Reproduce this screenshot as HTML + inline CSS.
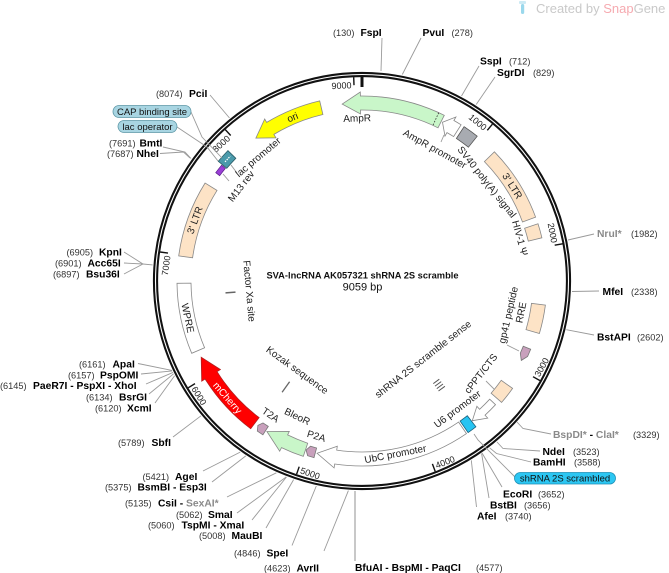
<!DOCTYPE html>
<html><head><meta charset="utf-8"><style>
html,body{margin:0;padding:0;background:#fff;}
svg{display:block;}
.n{font-weight:bold;font-size:10.3px;fill:#000;}
.g{font-weight:bold;font-size:10.3px;fill:#8a8a8a;}
.p{font-size:9.2px;fill:#333;}
.f{font-size:10px;fill:#222;}
.t{font-size:9px;fill:#222;}
.ln{stroke:#9a9a9a;stroke-width:0.9;fill:none;}
.ft{stroke:#888;stroke-width:0.8;}
</style></head><body>
<svg xmlns="http://www.w3.org/2000/svg" width="669" height="573" viewBox="0 0 669 573" font-family="'Liberation Sans', Arial, sans-serif">
<rect width="669" height="573" fill="#fff"/>

<!-- watermark -->
<rect x="519" y="1" width="7" height="3" rx="1" fill="#cdeaf4"/>
<rect x="521" y="4" width="3.2" height="10" rx="1.6" fill="#9ad8ec"/>
<text x="536" y="13" font-size="13" fill="#c9c9c9">Created by <tspan fill="#f6aab0">Snap</tspan>Gene</text>

<!-- backbone ring -->
<circle cx="362" cy="281" r="206.5" fill="none" stroke="#111" stroke-width="5.2"/>
<circle cx="362" cy="281" r="206.5" fill="none" stroke="#fff" stroke-width="1.1"/>

<!-- ticks -->
<g stroke="#111" stroke-width="1.4">
<line x1="492.4" y1="124.2" x2="487.3" y2="130.3"/>
<line x1="562.6" y1="243.8" x2="554.7" y2="245.2"/>
<line x1="540.0" y1="380.6" x2="533.0" y2="376.7"/>
<line x1="435.2" y1="471.4" x2="432.4" y2="463.9"/>
<line x1="296.6" y1="474.2" x2="299.2" y2="466.7"/>
<line x1="188.2" y1="387.8" x2="195.0" y2="383.6"/>
<line x1="160.1" y1="252.0" x2="168.0" y2="253.1"/>
<line x1="225.3" y1="129.6" x2="230.7" y2="135.5"/>
<line x1="353.7" y1="77.2" x2="354.0" y2="85.2"/>
</g>
<line x1="362" y1="77" x2="362" y2="87" stroke="#111" stroke-width="3"/>

<!-- tick labels -->
<g class="t">
<text class="t" x="359.5" y="88" text-anchor="end" transform="rotate(39.74 362 281)">1000</text>
<text class="t" x="359.5" y="88" text-anchor="end" transform="rotate(79.48 362 281)">2000</text>
<text class="t" x="364.5" y="483" text-anchor="start" transform="rotate(-60.78 362 281)">3000</text>
<text class="t" x="364.5" y="483" text-anchor="start" transform="rotate(-21.04 362 281)">4000</text>
<text class="t" x="364.5" y="483" text-anchor="start" transform="rotate(18.70 362 281)">5000</text>
<text class="t" x="364.5" y="483" text-anchor="start" transform="rotate(58.44 362 281)">6000</text>
<text class="t" x="359.5" y="88" text-anchor="end" transform="rotate(-81.82 362 281)">7000</text>
<text class="t" x="359.5" y="88" text-anchor="end" transform="rotate(-42.08 362 281)">8000</text>
<text class="t" x="359.5" y="88" text-anchor="end" transform="rotate(-2.34 362 281)">9000</text>
</g>

<!-- features -->
<path class="ft" d="M255.9,138.1 L264.7,119.0 L266.7,122.4 A185,185 0 0 1 319.7,100.9 L322.9,114.5 A171,171 0 0 0 273.9,134.4 L276.0,137.8 Z" fill="#ffff00" stroke="#8a8a60"/>
<path class="ft" d="M342.2,104.1 L360.3,92.0 L360.4,96.0 A185,185 0 0 1 444.3,115.3 L438.0,127.8 A171,171 0 0 0 360.5,110.0 L360.5,114.0 Z" fill="#c9f6c9"/>
<line x1="438.7" y1="112.7" x2="432.9" y2="125.4" stroke="#333" stroke-width="0.8" stroke-dasharray="1.6,1.4"/>
<path class="ft" d="M442.5,122.3 L455.9,117.0 L453.9,120.5 A185,185 0 0 1 461.1,124.8 L453.6,136.6 A171,171 0 0 0 447.0,132.6 L445.0,136.1 Z" fill="#fff"/>
<line class="ln" x1="444" y1="135" x2="441" y2="142"/>
<path d="M464.1,126.7 A185,185 0 0 1 477.2,136.2 L468.4,147.2 A171,171 0 0 0 456.4,138.4 Z" fill="#a8abb1" stroke="#555" stroke-width="0.8"/>
<path class="ft" d="M494.4,151.8 A185,185 0 0 1 535.6,217.1 L522.5,222.0 A171,171 0 0 0 484.4,161.6 Z" fill="#fde3c6"/>
<path class="ft" d="M538.0,223.8 A185,185 0 0 1 541.9,237.8 L528.3,241.1 A171,171 0 0 0 524.6,228.2 Z" fill="#fde3c6"/>
<path class="ft" d="M545.4,305.1 A185,185 0 0 1 539.4,333.5 L526.0,329.6 A171,171 0 0 0 531.5,303.3 Z" fill="#fde3c6"/>
<polygon points="523.3,346.2 530.7,349.2 527.6,356.5 521.3,360.4 520.3,353.2" fill="#c8a0bc" stroke="#777" stroke-width="0.8"/>
<line class="ln" x1="507" y1="345" x2="519" y2="351"/>
<path class="ft" d="M512.6,388.4 A185,185 0 0 1 501.6,402.4 L491.1,393.2 A171,171 0 0 0 501.2,380.3 Z" fill="#fde3c6"/>
<line class="ln" x1="486" y1="381" x2="494" y2="389"/>
<path class="ft" d="M489.7,399.2 L495.5,404.7 A182,182 0 0 1 485.0,415.2 L487.7,418.1 L472.3,420.7 L476.9,406.3 L479.6,409.3 A174,174 0 0 0 489.7,399.2 Z" fill="#fff"/>
<path class="ft" d="M466.5,433.6 A185,185 0 0 1 334.7,464.0 L334.1,467.9 L317.1,453.3 L337.3,446.2 L336.7,450.1 A171,171 0 0 0 458.6,422.1 Z" fill="#fff"/>
<path d="M475.9,426.8 A185,185 0 0 1 468.1,432.6 L460.1,421.1 A171,171 0 0 0 467.3,415.7 Z" fill="#27c4f2" stroke="#1a5f7a" stroke-width="0.8"/>
<polygon points="316.6,448.0 314.0,457.6 307.6,455.7 306.1,450.0 310.5,446.2" fill="#c8a0bc" stroke="#777" stroke-width="0.8"/>
<path class="ft" d="M303.3,456.4 A185,185 0 0 1 281.5,447.6 L279.7,451.2 L266.9,431.5 L289.3,431.4 L287.6,434.9 A171,171 0 0 0 307.7,443.2 Z" fill="#c9f6c9"/>
<polygon points="268.3,426.4 262.9,434.8 257.3,431.1 257.9,425.4 263.0,422.9" fill="#c8a0bc" stroke="#777" stroke-width="0.8"/>
<path d="M250.7,428.7 A185,185 0 0 1 205.1,379.0 L201.7,381.2 L201.2,357.3 L220.4,369.5 L217.0,371.6 A171,171 0 0 0 259.1,417.6 Z" fill="#ff0000" stroke="#b02020" stroke-width="0.8"/>
<path class="ft" d="M191.7,353.3 A185,185 0 0 1 177.0,283.3 L191.0,283.1 A171,171 0 0 0 204.6,347.8 Z" fill="#fff"/>
<path class="ft" d="M178.7,255.9 A185,185 0 0 1 205.1,183.0 L217.0,190.4 A171,171 0 0 0 192.6,257.8 Z" fill="#fde3c6"/>
<path d="M218.3,161.3 A187,187 0 0 1 227.9,150.6 L235.8,158.3 A176,176 0 0 0 226.8,168.3 Z" fill="#4a9aab" stroke="#2b5d68" stroke-width="0.8"/>
<line x1="225.0" y1="161.9" x2="230.3" y2="156.1" stroke="#fff" stroke-width="1.2" stroke-dasharray="1.5,1"/>
<path d="M215.7,172.7 A182,182 0 0 1 221.6,165.2 L225.4,168.4 A177,177 0 0 0 219.7,175.7 Z" fill="#9a3fd6" stroke="#5a1f8a" stroke-width="0.7"/>
<line class="ln" x1="231" y1="165" x2="237" y2="173"/>
<line class="ln" x1="223" y1="174" x2="229" y2="181"/>

<!-- small inner features -->
<line x1="235.5" y1="292.1" x2="225.5" y2="292.9" stroke="#666" stroke-width="1.5"/>
<line x1="289.6" y1="381.7" x2="282.1" y2="392.3" stroke="#666" stroke-width="1.3"/>
<g stroke="#555" stroke-width="1">
<line x1="439.3" y1="379.2" x2="433.3" y2="383.6"/>
<line x1="441.2" y1="381.6" x2="435.0" y2="386.1"/>
<line x1="443.0" y1="384.0" x2="436.8" y2="388.6"/>
<line x1="444.9" y1="386.3" x2="438.5" y2="391.0"/>
</g>

<!-- feature labels -->
<text class="f" x="362" y="121.5" text-anchor="middle" transform="rotate(-1.7 362 281)">AmpR</text>
<text class="f" x="362" y="133.5" text-anchor="middle" transform="rotate(28.9 362 281)">AmpR promoter</text>
<text class="f" x="362" y="125" text-anchor="middle" transform="rotate(51.6 362 281)">SV40 poly(A) signal</text>
<text class="f" x="362" y="106.5" text-anchor="middle" transform="rotate(57.7 362 281)">3' LTR</text>
<text class="f" x="362" y="120.7" text-anchor="middle" transform="rotate(74.8 362 281)">HIV-1 Ψ</text>
<text class="f" x="362" y="446.5" text-anchor="middle" transform="rotate(-78.8 362 281)">RRE</text>
<text class="f" x="362" y="434.5" text-anchor="middle" transform="rotate(-76.9 362 281)">gp41 peptide</text>
<text class="f" x="362" y="435" text-anchor="middle" transform="rotate(-52.1 362 281)">cPPT/CTS</text>
<text class="f" x="362" y="444" text-anchor="middle" transform="rotate(-36.7 362 281)">U6 promoter</text>
<text class="f" x="362" y="383.5" text-anchor="middle" transform="rotate(-38 362 281)">shRNA 2S scramble sense</text>
<text class="f" x="362" y="460.5" text-anchor="middle" transform="rotate(-10.9 362 281)">UbC promoter</text>
<text class="f" x="362" y="446" text-anchor="middle" transform="rotate(16.4 362 281)">P2A</text>
<text class="f" x="362" y="434.5" text-anchor="middle" transform="rotate(25.5 362 281)">BleoR</text>
<text class="f" x="362" y="446.5" text-anchor="middle" transform="rotate(34.3 362 281)">T2A</text>
<text x="362" y="462.5" text-anchor="middle" font-size="10" fill="#fff" transform="rotate(49 362 281)">mCherry</text>
<text class="f" x="362" y="394.5" text-anchor="middle" transform="rotate(36 362 281)">Kozak sequence</text>
<text class="f" x="362" y="462.5" text-anchor="middle" transform="rotate(78 362 281)">WPRE</text>
<text class="f" x="362" y="397.5" text-anchor="middle" transform="rotate(84.9 362 281)">Factor Xa site</text>
<text class="f" x="362" y="106.5" text-anchor="middle" transform="rotate(-70 362 281)">3' LTR</text>
<text class="f" x="362" y="130.7" text-anchor="middle" transform="rotate(-51.9 362 281)">M13 rev</text>
<text class="f" x="362" y="122.7" text-anchor="middle" transform="rotate(-40 362 281)">lac promoter</text>
<text class="f" x="362" y="106.5" text-anchor="middle" transform="rotate(-23 362 281)">ori</text>

<!-- center -->
<text x="362.5" y="278.5" text-anchor="middle" font-size="9.3" font-weight="bold" fill="#111">SVA-lncRNA AK057321 shRNA 2S scramble</text>
<text x="362.5" y="290.5" text-anchor="middle" font-size="11" fill="#111">9059 bp</text>

<!-- connector lines -->
<g class="ln">
<line x1="382" y1="38" x2="381" y2="71"/>
<line x1="421" y1="38" x2="402.3" y2="74.5"/>
<line x1="479" y1="66" x2="461.5" y2="96"/>
<line x1="495" y1="77" x2="476.2" y2="104.5"/>
<line x1="594" y1="234" x2="568" y2="240"/>
<line x1="599" y1="291" x2="572" y2="291.5"/>
<line x1="594" y1="335" x2="566.3" y2="329.7"/>
<polyline points="517,422 523,428.5 551,434"/>
<polyline points="497,442 503,448.5 540,451"/>
<polyline points="489.6,447.8 496.5,453.5 531,462"/>
<polyline points="474,434 478,440 515,477"/>
<line x1="482" y1="453" x2="502" y2="487"/>
<line x1="481.6" y1="453.6" x2="489" y2="498"/>
<line x1="471.3" y1="460.3" x2="476.5" y2="507"/>
<line x1="348.4" y1="490.6" x2="324" y2="551"/>
<line x1="316.3" y1="486" x2="292" y2="545.5"/>
<line x1="293.6" y1="479.6" x2="266" y2="528"/>
<line x1="286.5" y1="477" x2="252" y2="520"/>
<line x1="286.3" y1="476.9" x2="237" y2="513"/>
<line x1="276.4" y1="472.8" x2="227" y2="497"/>
<line x1="245.8" y1="455.9" x2="212" y2="482"/>
<line x1="240.2" y1="452.1" x2="203" y2="471"/>
<line x1="201" y1="415.8" x2="173" y2="437"/>
<line x1="174.6" y1="375.7" x2="155" y2="403"/>
<line x1="173.6" y1="373.8" x2="149" y2="394"/>
<line x1="173" y1="372.4" x2="146" y2="384"/>
<line x1="172.2" y1="370.9" x2="141" y2="374"/>
<line x1="172" y1="370.4" x2="138" y2="363.5"/>
<polyline points="124,252 143,264 152.6,264.9"/>
<line x1="124" y1="263" x2="143" y2="264"/>
<line x1="124" y1="274" x2="143" y2="264"/>
<polyline points="163,147 185,152 191,158.5"/>
<polyline points="160,153.5 183.5,152 190,158"/>
<polyline points="191,112 202,137 222,158"/>
<polyline points="177,127 207,147 218,161"/>
<line x1="210" y1="95" x2="229.5" y2="118"/>
</g>
<line x1="355" y1="491" x2="355" y2="561" stroke="#aaa" stroke-width="1.3"/>

<!-- enzyme labels -->
<text class="p" x="333" y="36">(130)</text><text class="n" x="360.5" y="36">FspI</text>
<text class="n" x="422.5" y="36">PvuI</text><text class="p" x="451.5" y="36">(278)</text>
<text class="n" x="480" y="64.5">SspI</text><text class="p" x="509" y="64.5">(712)</text>
<text class="n" x="497" y="76">SgrDI</text><text class="p" x="533" y="76">(829)</text>
<text class="g" x="597" y="237">NruI*</text><text class="p" x="631" y="237">(1982)</text>
<text class="n" x="602.5" y="295">MfeI</text><text class="p" x="631" y="295">(2338)</text>
<text class="n" x="597" y="340.5">BstAPI</text><text class="p" x="637" y="340.5">(2602)</text>
<text class="g" x="553" y="438">BspDI* <tspan fill="#000">-</tspan> ClaI*</text><text class="p" x="633" y="438">(3329)</text>
<text class="n" x="542.5" y="455">NdeI</text><text class="p" x="573" y="455">(3523)</text>
<text class="n" x="533" y="465.5">BamHI</text><text class="p" x="574" y="465.5">(3588)</text>
<rect x="514.5" y="472.5" width="101" height="11.5" rx="5.75" fill="#2cc6f2" stroke="#1d8fb5" stroke-width="0.8"/>
<text x="565" y="481.5" text-anchor="middle" font-size="9.5" fill="#111">shRNA 2S scrambled</text>
<text class="n" x="503" y="497.5">EcoRI</text><text class="p" x="538" y="497.5">(3652)</text>
<text class="n" x="490" y="508.5">BstBI</text><text class="p" x="524" y="508.5">(3656)</text>
<text class="n" x="477" y="519.3">AfeI</text><text class="p" x="505" y="519.3">(3740)</text>
<text class="n" x="355" y="571">BfuAI - BspMI - PaqCI</text><text class="p" x="476" y="571">(4577)</text>
<text class="p" x="264" y="571.5">(4623)</text><text class="n" x="296.5" y="571.5">AvrII</text>
<text class="p" x="234" y="556.5">(4846)</text><text class="n" x="266.5" y="556.5">SpeI</text>
<text class="p" x="199" y="539">(5008)</text><text class="n" x="231.5" y="539">MauBI</text>
<text class="p" x="148" y="528.5">(5060)</text><text class="n" x="181.5" y="528.5">TspMI - XmaI</text>
<text class="p" x="176" y="518">(5062)</text><text class="n" x="208" y="518">SmaI</text>
<text class="p" x="125" y="506.7">(5135)</text><text class="n" x="158" y="506.7">CsiI - <tspan fill="#8a8a8a">SexAI*</tspan></text>
<text class="p" x="105" y="490.5">(5375)</text><text class="n" x="137.5" y="490.5">BsmBI - Esp3I</text>
<text class="p" x="142.5" y="480">(5421)</text><text class="n" x="175" y="480">AgeI</text>
<text class="p" x="118" y="446">(5789)</text><text class="n" x="151.5" y="446">SbfI</text>
<text class="p" x="95" y="411.5">(6120)</text><text class="n" x="127" y="411.5">XcmI</text>
<text class="p" x="86" y="400.5">(6134)</text><text class="n" x="119" y="400.5">BsrGI</text>
<text class="p" x="0" y="389">(6145)</text><text class="n" x="33" y="389">PaeR7I - PspXI - XhoI</text>
<text class="p" x="68" y="378.3">(6157)</text><text class="n" x="100" y="378.3">PspOMI</text>
<text class="p" x="79" y="367.3">(6161)</text><text class="n" x="112.5" y="367.3">ApaI</text>
<text class="p" x="66.5" y="255.5">(6905)</text><text class="n" x="99" y="255.5">KpnI</text>
<text class="p" x="55" y="266.5">(6901)</text><text class="n" x="87.5" y="266.5">Acc65I</text>
<text class="p" x="53" y="277.5">(6897)</text><text class="n" x="86" y="277.5">Bsu36I</text>
<text class="p" x="109" y="146.5">(7691)</text><text class="n" x="139.5" y="146.5">BmtI</text>
<text class="p" x="107" y="157">(7687)</text><text class="n" x="136.5" y="157">NheI</text>
<text class="p" x="156" y="97">(8074)</text><text class="n" x="189" y="97">PciI</text>
<rect x="113" y="105.5" width="78" height="12" rx="6" fill="#a8d5e2" stroke="#5d97a6" stroke-width="0.8"/>
<text x="152" y="114.8" text-anchor="middle" font-size="9.5" fill="#111">CAP binding site</text>
<rect x="118" y="120.5" width="59" height="12" rx="6" fill="#a8d5e2" stroke="#5d97a6" stroke-width="0.8"/>
<text x="147.5" y="129.8" text-anchor="middle" font-size="9.5" fill="#111">lac operator</text>
</svg>
</body></html>
